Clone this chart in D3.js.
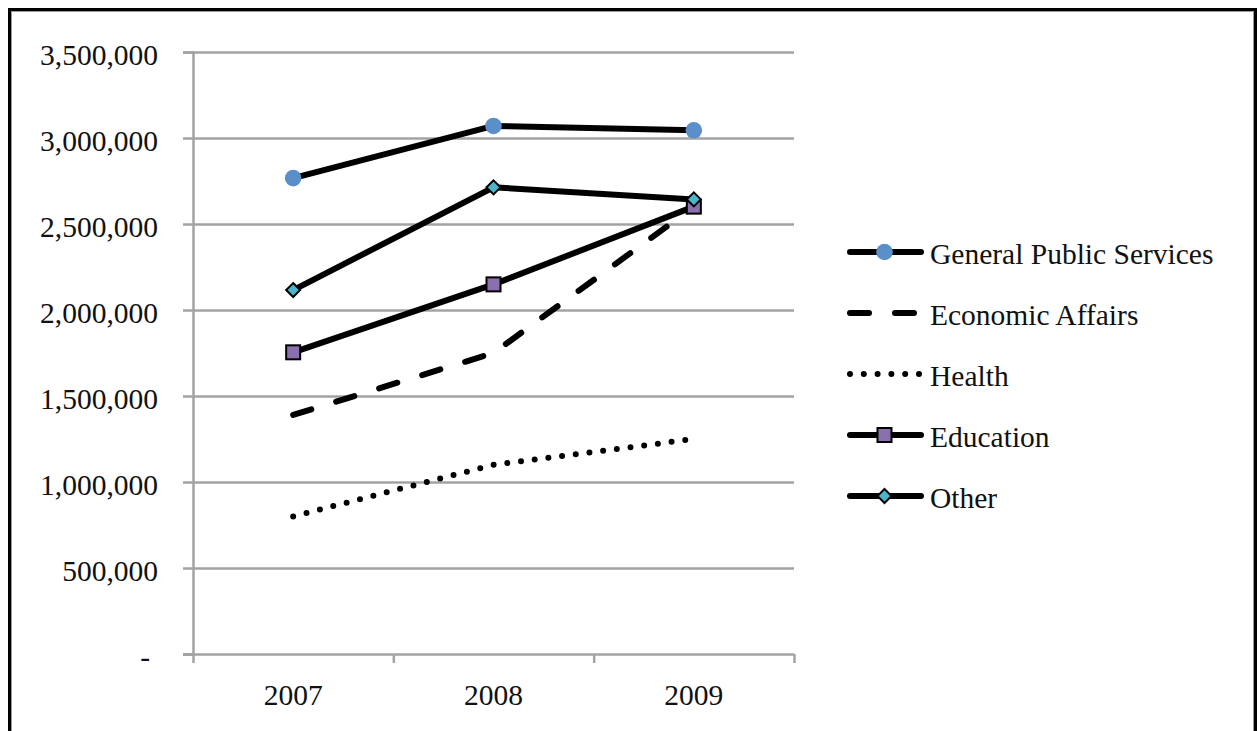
<!DOCTYPE html>
<html>
<head>
<meta charset="utf-8">
<script src="https://cdn.jsdelivr.net/npm/d3@7"></script>
<style>
  html, body { margin: 0; padding: 0; background: #fff; }
  svg { display: block; }
  text { font-family: "Liberation Serif", "Times New Roman", serif; fill: #111; }
</style>
</head>
<body>
<svg id="chart" width="1258" height="731"></svg>
<script>
// Government spending by function, 2007-2009
const years = ["2007", "2008", "2009"];
const seriesNames = ["General Public Services", "Economic Affairs", "Health", "Education", "Other"];
const generalPublicServices = [2767000, 3070000, 3045000];
const economicAffairs = [1390000, 1750000, 2600000];
const health = [800000, 1100000, 1250000];
const education = [1754000, 2149000, 2601000];
const other = [2116000, 2713000, 2643000];
const yTicks = [0, 500000, 1000000, 1500000, 2000000, 2500000, 3000000, 3500000];

const seriesValues = [generalPublicServices, economicAffairs, health, education, other];
const seriesStyle = [
  { dash: null, marker: "circle", fill: "#5b8fc9" },
  { dash: "19,26", marker: null },
  { dash: "0,13.8", marker: null },
  { dash: null, marker: "square", fill: "#8a70ae" },
  { dash: null, marker: "diamond", fill: "#4bb5cc" }
];

const svg = d3.select("#chart");
const FONT = 29.5;
const LINE_W = 6;

// frame around the chart
svg.append("rect").attr("x", 9.5).attr("y", 9.5).attr("width", 1246).attr("height", 800)
  .attr("fill", "none").attr("stroke", "#000").attr("stroke-width", 3);
svg.append("rect").attr("x", 11.5).attr("y", 11.5).attr("width", 1242).attr("height", 800)
  .attr("fill", "none").attr("stroke", "#9a9a9a").attr("stroke-width", 1);

const plot = { left: 193, right: 794, top: 52, bottom: 654 };

const x = d3.scaleBand().domain(years).range([plot.left, plot.right]).padding(0);
const xEdges = d3.scaleLinear().domain([0, years.length]).range([plot.left, plot.right]);
const y = d3.scaleLinear().domain([0, 3500000]).range([plot.bottom, plot.top]);

const gridColor = "#a3a3a3";

// horizontal gridlines
const grid = svg.append("g").attr("transform", `translate(${plot.left},0)`)
  .call(d3.axisLeft(y).tickValues(yTicks.filter(v => v > 0))
    .tickSize(-(plot.right - plot.left)).tickFormat(""));
grid.select(".domain").remove();
grid.selectAll("line").attr("stroke", gridColor).attr("stroke-width", 2.5);

// y axis with labels
const fmt = d3.format(",");
const yAxis = svg.append("g").attr("transform", `translate(${plot.left},0)`)
  .call(d3.axisLeft(y).tickValues(yTicks).tickSize(10).tickPadding(25)
    .tickFormat(v => v === 0 ? "-" : fmt(v)));
yAxis.select(".domain").attr("stroke", gridColor).attr("stroke-width", 2.5);
yAxis.selectAll(".tick line").attr("stroke", gridColor).attr("stroke-width", 2.5);
yAxis.selectAll(".tick text")
  .attr("font-family", "Liberation Serif, serif").attr("font-size", FONT)
  .attr("fill", "#111").attr("dy", "0.44em")
  .filter(v => v === 0).attr("dx", -8);

// x axis: tick marks at category edges
const xTickAxis = svg.append("g").attr("transform", `translate(0,${plot.bottom})`)
  .call(d3.axisBottom(xEdges).tickValues(d3.range(years.length + 1)).tickSize(9).tickFormat(""));
xTickAxis.select(".domain").attr("stroke", gridColor).attr("stroke-width", 2.5)
  .attr("d", `M${plot.left - 10},0.5H${plot.right}`);
xTickAxis.selectAll(".tick line").attr("stroke", gridColor).attr("stroke-width", 2.5);

// x axis: category labels
const xLabelAxis = svg.append("g").attr("transform", `translate(0,${plot.bottom})`)
  .call(d3.axisBottom(x).tickSize(0).tickPadding(30));
xLabelAxis.select(".domain").remove();
xLabelAxis.selectAll(".tick text")
  .attr("font-family", "Liberation Serif, serif").attr("font-size", FONT).attr("fill", "#111");

// marker drawing
function drawMarker(g, type, fill, cx, cy) {
  if (type === "circle") {
    g.append("circle").attr("cx", cx).attr("cy", cy).attr("r", 8.3).attr("fill", fill);
  } else if (type === "square") {
    const s = 14;
    g.append("rect").attr("x", cx - s / 2).attr("y", cy - s / 2).attr("width", s).attr("height", s)
      .attr("fill", fill).attr("stroke", "#000").attr("stroke-width", 2);
  } else if (type === "diamond") {
    const r = 7;
    g.append("path").attr("d", `M${cx},${cy - r}L${cx + r},${cy}L${cx},${cy + r}L${cx - r},${cy}Z`)
      .attr("fill", fill).attr("stroke", "#000").attr("stroke-width", 2).attr("stroke-linejoin", "miter");
  }
}

const line = d3.line().x((d, i) => x(years[i]) + x.bandwidth() / 2).y(d => y(d));

const seriesG = svg.append("g");
seriesValues.forEach((vals, si) => {
  const st = seriesStyle[si];
  const g = seriesG.append("g");
  const p = g.append("path").datum(vals).attr("d", line)
    .attr("fill", "none").attr("stroke", "#000")
    .attr("stroke-width", LINE_W)
    .attr("stroke-linejoin", "round").attr("stroke-linecap", "round");
  if (st.dash) p.attr("stroke-dasharray", st.dash);
  if (st.marker) {
    vals.forEach((v, i) => drawMarker(g, st.marker, st.fill, x(years[i]) + x.bandwidth() / 2, y(v)));
  }
});

// legend
const legend = svg.append("g");
const legX0 = 847, legX1 = 922, legY0 = 252, legStep = 61;
seriesNames.forEach((name, si) => {
  const st = seriesStyle[si];
  const ly = legY0 + si * legStep;
  const g = legend.append("g");
  const p = g.append("line").attr("x1", legX0 + 3).attr("x2", legX1 - 1).attr("y1", ly).attr("y2", ly)
    .attr("stroke", "#000").attr("stroke-width", LINE_W).attr("stroke-linecap", "round");
  if (st.dash) p.attr("stroke-dasharray", st.dash);
  if (st.marker) drawMarker(g, st.marker, st.fill, (legX0 + legX1) / 2, ly);
  g.append("text").attr("x", 930).attr("y", ly + 11.5)
    .attr("font-size", FONT).text(name);
});
</script>
</body>
</html>
